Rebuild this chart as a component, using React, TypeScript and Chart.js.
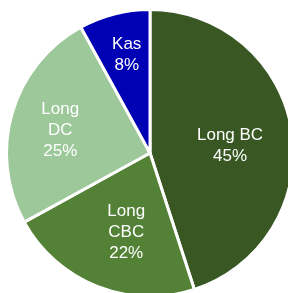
import React, { useEffect, useRef } from "react";
import { Chart, registerables } from "chart.js";

Chart.register(...registerables);

const categories = ["Long BC", "Long CBC", "Long DC", "Kas"];
const labelLines = [["Long BC"], ["Long", "CBC"], ["Long", "DC"], ["Kas"]];
const values = [45, 22, 25, 8];
const colors = ["#385723", "#538135", "#9CC89A", "#0000B4"];

const labelPlugin = {
  id: "sliceLabels",
  afterDatasetsDraw(chart: any) {
    const ctx = chart.ctx;
    const meta = chart.getDatasetMeta(0);
    const total = values.reduce((a, b) => a + b, 0);
    const factors = [0.56, 0.58, 0.645, 0.7];
    const shifts = [4, -5, -2, 1];
    const lh = 21;
    ctx.save();
    ctx.fillStyle = "#ffffff";
    ctx.font = "17px 'Liberation Sans', Arial, sans-serif";
    ctx.textAlign = "center";
    ctx.textBaseline = "middle";
    meta.data.forEach((arc: any, i: number) => {
      const p = arc.getProps(["x", "y", "startAngle", "endAngle", "outerRadius"], true);
      const mid = (p.startAngle + p.endAngle) / 2 + (shifts[i] * Math.PI) / 180;
      const r = p.outerRadius * factors[i];
      const cx = p.x + Math.cos(mid) * r;
      const cy = p.y + Math.sin(mid) * r;
      const lines = [...labelLines[i], Math.round((values[i] / total) * 100) + "%"];
      const startY = cy - ((lines.length - 1) * lh) / 2;
      lines.forEach((t, j) => ctx.fillText(t, cx, startY + j * lh));
    });
    ctx.restore();
  },
};

export default function App() {
  const ref = useRef<HTMLCanvasElement>(null);
  useEffect(() => {
    document.body.style.margin = "0";
    document.body.style.overflow = "hidden";
    const chart = new Chart(ref.current!, {
      type: "pie",
      data: {
        labels: categories,
        datasets: [
          {
            data: values,
            backgroundColor: colors,
            borderColor: "#ffffff",
            borderWidth: 3,
            radius: 143.5,
            clip: false,
          } as any,
        ],
      },
      options: {
        responsive: false,
        animation: false,
        devicePixelRatio: 1,
        layout: { padding: { left: 12, top: 13, right: 0, bottom: 0 } },
        plugins: {
          legend: { display: false },
          tooltip: { enabled: false },
        },
      },
      plugins: [labelPlugin],
    });
    return () => chart.destroy();
  }, []);
  return (
    <div style={{ position: "fixed", left: 0, top: 0, width: 288, height: 293, background: "#fff" }}>
      <canvas ref={ref} width={288} height={293} style={{ width: 288, height: 293, display: "block" }} />
    </div>
  );
}
